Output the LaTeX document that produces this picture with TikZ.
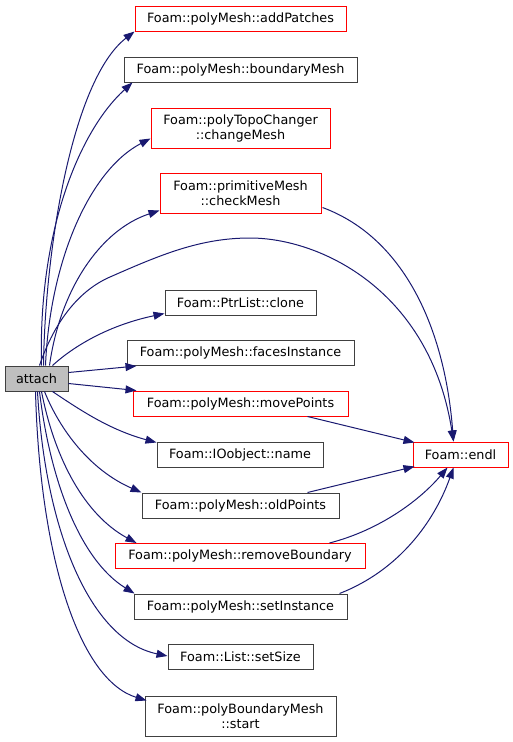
\documentclass[tikz,border=0pt]{standalone}
\usepackage{fontspec}
\setmainfont{DejaVu Sans}
\usetikzlibrary{arrows.meta,calc}
\definecolor{edgeblue}{HTML}{191970}
\definecolor{boxgray}{HTML}{404040}
\definecolor{attachfill}{HTML}{BFBFBF}
\begin{document}
\begin{tikzpicture}[x=1pt,y=-1pt,
  every node/.style={font=\fontsize{12.8}{15}\selectfont, inner sep=0pt, align=center, text=black},
  fn/.style={draw=boxgray, line width=1pt, minimum height=25pt},
  fnred/.style={draw=red, line width=1pt, minimum height=25pt},
  conn/.style={draw=edgeblue, line width=1pt, -{Triangle[length=11pt,width=8pt]}}]
\useasboundingbox (0,0) rectangle (513,742);

\node[fn, fill=attachfill, minimum width=63pt] (attach) at (36.5,378.5) {attach};
\node[fnred, minimum width=211pt] (addPatches) at (240.5,18.5) {Foam::polyMesh::addPatches};
\node[fn, minimum width=233pt] (boundaryMesh) at (240.5,69.5) {Foam::polyMesh::boundaryMesh};
\node[fnred, minimum width=179pt, minimum height=40pt] (changeMesh) at (240.5,128) {Foam::polyTopoChanger\\::changeMesh};
\node[fnred, minimum width=161pt, minimum height=40pt] (checkMesh) at (240.5,193) {Foam::primitiveMesh\\::checkMesh};
\node[fn, minimum width=151pt] (clone) at (240.5,302.5) {Foam::PtrList::clone};
\node[fn, minimum width=227pt] (facesInstance) at (240.5,353) {Foam::polyMesh::facesInstance};
\node[fnred, minimum width=215pt] (movePoints) at (240.5,403.5) {Foam::polyMesh::movePoints};
\node[fn, minimum width=166pt] (name) at (240,454.5) {Foam::IOobject::name};
\node[fnred, minimum width=95pt] (endl) at (460.5,454.5) {Foam::endl};
\node[fn, minimum width=197pt] (oldPoints) at (240.5,505.5) {Foam::polyMesh::oldPoints};
\node[fnred, minimum width=250pt] (removeBoundary) at (240,556) {Foam::polyMesh::removeBoundary};
\node[fn, minimum width=213pt] (setInstance) at (240.5,606.5) {Foam::polyMesh::setInstance};
\node[fn, minimum width=145pt] (setSize) at (240.5,657) {Foam::List::setSize};
\node[fn, minimum width=191pt, minimum height=40pt] (start) at (240.5,716) {Foam::polyBoundaryMesh\\::start};

% edges from attach (top)
\draw[conn] ($(attach.north west)+(39,0)$) .. controls (45,250) and (72,80) .. (addPatches.south west);
\draw[conn] ($(attach.north west)+(37,0)$) .. controls (38,230) and (80,130) .. ($(boundaryMesh.south west)+(9,0)$);
\draw[conn] ($(attach.north west)+(41,0)$) .. controls (50,260) and (90,170) .. ($(changeMesh.south west)+(0,-10)$);
\draw[conn] ($(attach.north west)+(45,0)$) .. controls (60,290) and (100,230) .. ($(checkMesh.south west)+(0,-3)$);
\draw[conn] ($(attach.north west)+(35,0)$) .. controls (55,320) and (80,290) .. (110,277)
  .. controls (160,255) and (200,238) .. (250,238)
  .. controls (320,238) and (430,290) .. ($(endl.north west)+(41,0)$);
\draw[conn] ($(attach.north west)+(48,0)$) .. controls (75,345) and (110,325) .. ($(clone.south west)+(0,-2)$);
% right side
\draw[conn] ($(attach.north east)+(0,7)$) -- ($(facesInstance.south west)+(10,0)$);
\draw[conn] ($(attach.north east)+(0,18)$) -- ($(movePoints.north west)+(4,0)$);
% bottom
\draw[conn] ($(attach.south west)+(48,0)$) .. controls (80,410) and (110,430) .. ($(name.north west)+(0,1)$);
\draw[conn] ($(attach.south west)+(40,0)$) .. controls (60,430) and (90,470) .. (oldPoints.north west);
\draw[conn] ($(attach.south west)+(37,0)$) .. controls (55,460) and (85,515) .. ($(removeBoundary.north west)+(22,0)$);
\draw[conn] ($(attach.south west)+(35,0)$) .. controls (50,480) and (80,560) .. ($(setInstance.north west)+(1,0)$);
\draw[conn] ($(attach.south west)+(33,0)$) .. controls (45,530) and (90,640) .. ($(setSize.west)+(0,-1)$);
\draw[conn] ($(attach.south west)+(31,0)$) .. controls (40,560) and (80,680) .. ($(start.north west)+(2,5)$);

% into endl
\draw[conn] ($(checkMesh.north east)+(1,35)$) .. controls (405,238) and (445,330) .. ($(endl.north west)+(41,0)$);
\draw[conn] ($(movePoints.south west)+(175,0)$) -- ($(endl.north west)+(2,1)$);
\draw[conn] ($(oldPoints.north west)+(166,0)$) -- ($(endl.south west)+(2,-1)$);
\draw[conn] ($(removeBoundary.north west)+(215,0)$) .. controls (380,530) and (420,500) .. ($(endl.south west)+(35,0)$);
\draw[conn] ($(setInstance.north west)+(206,0)$) .. controls (400,570) and (435,520) .. ($(endl.south west)+(41,0)$);
\end{tikzpicture}
\end{document}
